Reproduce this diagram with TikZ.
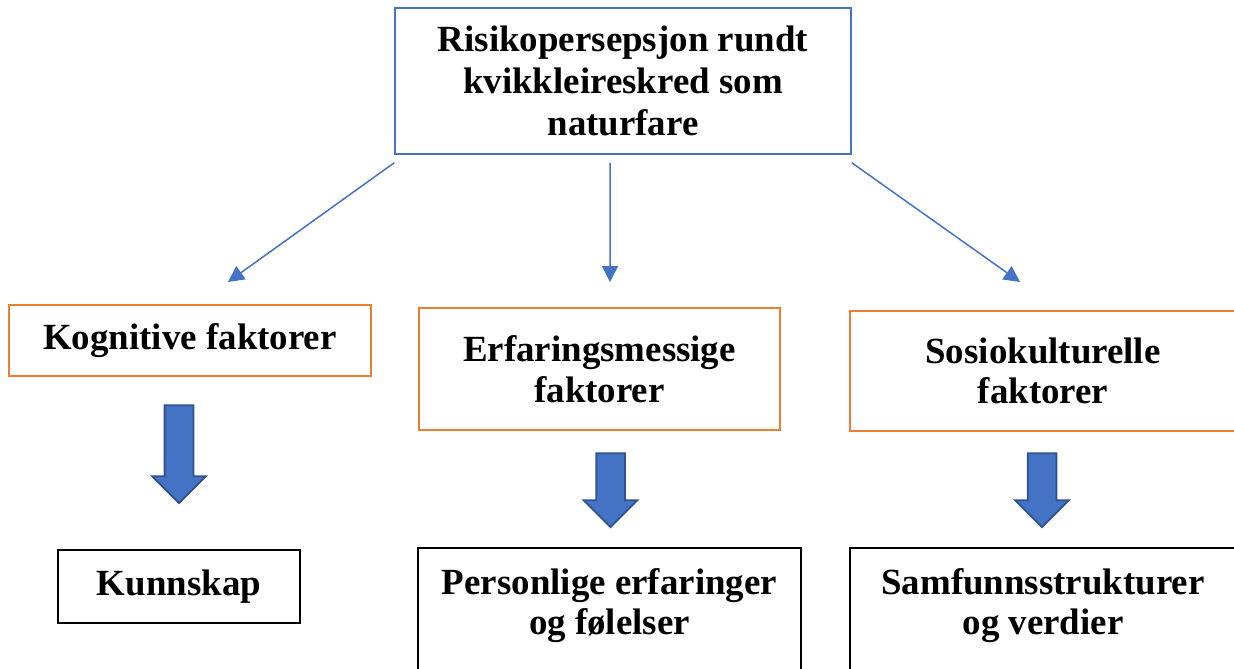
\documentclass[tikz,border=0pt]{standalone}
\usepackage{fontspec}
\setmainfont{Liberation Serif}
\usetikzlibrary{arrows.meta,positioning,shapes.arrows,calc}
\definecolor{wblue}{HTML}{4472C4}
\definecolor{wblued}{HTML}{2F528F}
\definecolor{worange}{HTML}{ED7D31}

\begin{document}
\begin{tikzpicture}[
          topbox/.style={draw=wblue, line width=0.85pt, fill=white, inner sep=4pt, align=center, font=\fontsize{21}{24}\selectfont\bfseries, minimum width=9.12cm, minimum height=2.92cm},
          facbox/.style={draw=worange, line width=1.3pt, fill=white, inner sep=4pt, align=center, font=\fontsize{21}{23}\selectfont\bfseries},
          resbox/.style={draw=black, line width=1.3pt, fill=white, inner sep=4pt, align=center, font=\fontsize{21}{23}\selectfont\bfseries},
          arr/.style={-{Triangle[length=3.2mm, width=3.2mm]}, line width=0.85pt, color=wblue},
          blk/.style={single arrow, shape border rotate=270, fill=wblue, draw=wblued, line width=1pt, inner sep=0.27cm, single arrow head extend=0.25cm, single arrow tip angle=90}]
        \useasboundingbox (0,0) rectangle (24.68,-13.36);
        \node[topbox] (risk) at (12.46,-1.62) {Risikopersepsjon rundt\\ kvikkleireskred som\\ naturfare};
        \node[facbox, minimum width=7.24cm, minimum height=1.42cm] (kogn) at (3.80,-6.81) {Kognitive faktorer};
        \node[facbox, minimum width=7.22cm, minimum height=2.44cm] (erf) at (11.99,-7.38) {Erfaringsmessige\\ faktorer};
        \node[facbox, minimum width=7.72cm, minimum height=2.40cm] (sosio) at (20.86,-7.42) {Sosiokulturelle\\ faktorer};
        \coordinate (kogn-in) at (4.56,-5.64);
        \coordinate (erf-in) at (12.20,-5.64);
        \coordinate (sosio-in) at (20.40,-5.64);
        \draw[arr] ($(risk.south west)+(0,-0.16)$) -- (kogn-in);
        \draw[arr] ($(risk.south)+(-0.26,-0.16)$) -- (erf-in);
        \draw[arr] ($(risk.south east)+(0,-0.16)$) -- (sosio-in);
        \node[blk, minimum height=1.96cm] (kogn-dn) at (3.58,-8.94) {};
        \node[blk, minimum height=1.48cm] (erf-dn) at (12.21,-9.66) {};
        \node[blk, minimum height=1.48cm] (sosio-dn) at (20.84,-9.66) {};
        \node[resbox, minimum width=4.84cm, minimum height=1.46cm] (kunn) at (3.58,-11.73) {Kunnskap};
        \node[resbox, minimum width=7.66cm, minimum height=3.2cm, anchor=north] (pers) at (12.19,-10.94) {};
        \node[font=\fontsize{21}{23}\selectfont\bfseries, align=center, below=0.3cm of pers.north] (pers-t) {Personlige erfaringer\\ og følelser};
        \node[resbox, minimum width=7.72cm, minimum height=3.2cm, anchor=north] (samf) at (20.86,-10.94) {};
        \node[font=\fontsize{21}{23}\selectfont\bfseries, align=center, below=0.3cm of samf.north] (samf-t) {Samfunnsstrukturer\\ og verdier};
      \end{tikzpicture}
\end{document}
